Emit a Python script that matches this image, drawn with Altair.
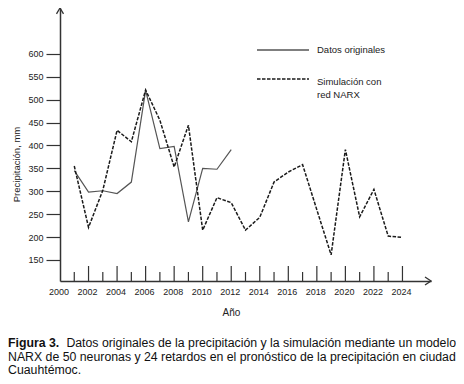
import altair as alt
import pandas as pd

# ---- data ----
years_orig = list(range(2001, 2013))
precip_orig = [345, 298, 301, 295, 320, 520, 393, 398, 233, 350, 348, 391]

years_sim = [2001, 2002, 2003, 2004, 2005, 2006, 2007, 2008, 2009, 2010, 2011,
             2012, 2013, 2014, 2015, 2016, 2017, 2019, 2020, 2021, 2022, 2023, 2024]
precip_sim = [355, 221, 302, 433, 408, 521, 455, 353, 444, 215, 286,
              275, 215, 243, 320, 342, 358, 161, 391, 244, 304, 202, 199]

series_labels = ["Datos originales", ["Simulación con", "red NARX"]]
y_ticks = [150, 200, 250, 300, 350, 400, 450, 500, 550, 600]
x_label_years = list(range(2000, 2025, 2))
x_major_ticks = list(range(2002, 2025, 2))
x_minor_ticks = list(range(2001, 2024, 2))

caption_bold = "Figura 3."
caption_line1 = "Datos originales de la precipitación y la simulación mediante un modelo"
caption_line2 = "NARX de 50 neuronas y 24 retardos en el pronóstico de la precipitación en ciudad"
caption_line3 = "Cuauhtémoc."

# ---- layout / style ----
W, H = 371, 273
F = "Liberation Sans"
CF = "Liberation Sans"
CS = 12.3
AX = "#333333"

xs = alt.Scale(domain=[2000, 2026], nice=False, zero=False)
ys = alt.Scale(domain=[104, 700], nice=False, zero=False)

x_axis = alt.Axis(values=x_label_years, format="d", ticks=False, labelPadding=6,
                  labelOverlap=False, labelFlush=False,
                  labelFont=F, labelFontSize=9, labelColor="#222", labelOffset=-1.5,
                  domainColor=AX, domainWidth=1.5, grid=False,
                  title="Año", titleX=171, titleY=31, titleAlign="center",
                  titleBaseline="middle", titleFont=F, titleFontSize=10,
                  titleFontWeight="normal", titleColor="#222")
y_axis = alt.Axis(values=y_ticks, labelFont=F, labelFontSize=9, labelColor="#222",
                  labelOverlap=False, labelFlush=False,
                  labelPadding=3, tickSize=14, tickColor=AX, tickWidth=1.2,
                  domainColor=AX, domainWidth=1.5, grid=False,
                  title="Precipitación, mm", titleX=-44, titleY=156,
                  titleAlign="center", titleBaseline="middle", titleFont=F,
                  titleFontSize=9.5, titleFontWeight="normal", titleColor="#222")

X = alt.X("year:Q", scale=xs, axis=x_axis)
Y = alt.Y("value:Q", scale=ys, axis=y_axis)

df_o = pd.DataFrame({"year": years_orig, "value": precip_orig})
df_s = pd.DataFrame({"year": years_sim, "value": precip_sim})
df_major = pd.DataFrame({"year": x_major_ticks})
df_minor = pd.DataFrame({"year": x_minor_ticks})

line_o = alt.Chart(df_o).mark_line(color="#555555", strokeWidth=1.2).encode(x=X, y=Y)
line_s = alt.Chart(df_s).mark_line(color="#1a1a1a", strokeWidth=1.5,
                                   strokeDash=[3.5, 1.5]).encode(x=X, y=Y)

major_ticks = alt.Chart(df_major).mark_rule(color=AX, strokeWidth=1.2).encode(
    x=X, y=alt.value(H), y2=alt.value(H - 15))
minor_ticks = alt.Chart(df_minor).mark_rule(color=AX, strokeWidth=1.2).encode(
    x=X, y=alt.value(H), y2=alt.value(H - 9))

one = alt.Data(values=[{"k": 1}])

arrow_up = alt.Chart(one).mark_point(shape="M-1,1.7L0,0L1,1.7", size=49, filled=False,
                                     stroke=AX, strokeWidth=1.3, opacity=1).encode(
    x=alt.value(0), y=alt.value(0))
arrow_right = alt.Chart(one).mark_point(shape="M-1.5,-1L0,0L-1.5,1", size=64, filled=False,
                                        stroke=AX, strokeWidth=1.3, opacity=1).encode(
    x=alt.value(W), y=alt.value(H))

leg_rule_o = alt.Chart(one).mark_rule(color="#555555", strokeWidth=1.3).encode(
    x=alt.value(197), x2=alt.value(249), y=alt.value(42))
leg_rule_s = alt.Chart(one).mark_rule(color="#1a1a1a", strokeWidth=1.5,
                                      strokeDash=[3.5, 1.5]).encode(
    x=alt.value(197), x2=alt.value(249), y=alt.value(71))
leg_text_o = alt.Chart(one).mark_text(align="left", baseline="middle", font=F,
                                      fontSize=9.5, color="#222").encode(
    x=alt.value(257), y=alt.value(41.5), text=alt.value(series_labels[0]))
leg_text_s = alt.Chart(one).mark_text(align="left", baseline="middle", font=F,
                                      fontSize=9.5, color="#222", lineHeight=12.6).encode(
    x=alt.value(257), y=alt.value(74), text=alt.value(series_labels[1]))

cap_b = alt.Chart(one).mark_text(align="left", baseline="middle", font=CF, fontSize=CS,
                                 fontWeight="bold", color="#111").encode(
    x=alt.value(-52), y=alt.value(334.5), text=alt.value(caption_bold))
cap_1 = alt.Chart(one).mark_text(align="right", baseline="middle", font=CF, fontSize=CS,
                                 color="#111").encode(
    x=alt.value(W + 25), y=alt.value(334.5), text=alt.value(caption_line1))
cap_2 = alt.Chart(one).mark_text(align="left", baseline="middle", font=CF, fontSize=CS,
                                 color="#111").encode(
    x=alt.value(-52), y=alt.value(348.5), text=alt.value(caption_line2))
cap_3 = alt.Chart(one).mark_text(align="left", baseline="middle", font=CF, fontSize=CS,
                                 color="#111").encode(
    x=alt.value(-52), y=alt.value(362), text=alt.value(caption_line3))

chart = alt.layer(
    line_o, line_s, major_ticks, minor_ticks, arrow_up, arrow_right,
    leg_rule_o, leg_rule_s, leg_text_o, leg_text_s, cap_b, cap_1, cap_2, cap_3
).properties(
    width=W, height=H,
    autosize=alt.AutoSizeParams(type="none"),
    padding={"left": 52, "top": 0, "right": 25, "bottom": 95},
).configure_view(stroke=None)

chart.save("out.html", embed_options={"renderer": "svg", "actions": False})
